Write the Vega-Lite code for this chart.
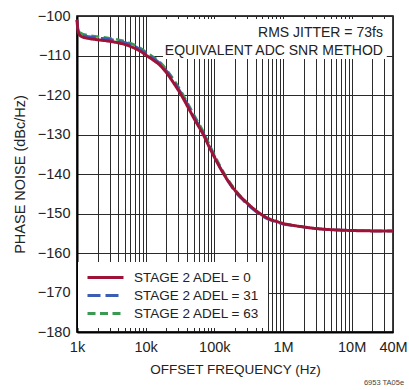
{
  "$schema": "https://vega.github.io/schema/vega-lite/v6.json",
  "width": 316,
  "height": 316,
  "autosize": {"type": "none"},
  "padding": {"left": 77, "top": 16, "right": 16, "bottom": 58},
  "background": "white",
  "config": {
    "font": "Liberation Sans",
    "view": {"stroke": "#000", "strokeWidth": 1.5}
  },
  "title": {"text": "6953 TA05e", "orient": "bottom", "anchor": "end", "fontSize": 7.5, "fontWeight": "normal", "color": "#444", "font": "Liberation Sans", "offset": 3, "dx": -3},
  "datasets": {
    "curves": [
      {"series": "STAGE 2 ADEL = 0", "freq": 1000, "db": -101.0},
      {"series": "STAGE 2 ADEL = 0", "freq": 1030, "db": -103.5},
      {"series": "STAGE 2 ADEL = 0", "freq": 1080, "db": -104.7},
      {"series": "STAGE 2 ADEL = 0", "freq": 1200, "db": -105.3},
      {"series": "STAGE 2 ADEL = 0", "freq": 1500, "db": -105.7},
      {"series": "STAGE 2 ADEL = 0", "freq": 2000, "db": -106.0},
      {"series": "STAGE 2 ADEL = 0", "freq": 3000, "db": -106.4},
      {"series": "STAGE 2 ADEL = 0", "freq": 4000, "db": -106.8},
      {"series": "STAGE 2 ADEL = 0", "freq": 5000, "db": -107.2},
      {"series": "STAGE 2 ADEL = 0", "freq": 6000, "db": -107.7},
      {"series": "STAGE 2 ADEL = 0", "freq": 7000, "db": -108.2},
      {"series": "STAGE 2 ADEL = 0", "freq": 8500, "db": -109.0},
      {"series": "STAGE 2 ADEL = 0", "freq": 10300, "db": -110.0},
      {"series": "STAGE 2 ADEL = 0", "freq": 13000, "db": -111.2},
      {"series": "STAGE 2 ADEL = 0", "freq": 16000, "db": -112.4},
      {"series": "STAGE 2 ADEL = 0", "freq": 20000, "db": -114.3},
      {"series": "STAGE 2 ADEL = 0", "freq": 25000, "db": -116.7},
      {"series": "STAGE 2 ADEL = 0", "freq": 33000, "db": -120.0},
      {"series": "STAGE 2 ADEL = 0", "freq": 42000, "db": -123.3},
      {"series": "STAGE 2 ADEL = 0", "freq": 52000, "db": -126.3},
      {"series": "STAGE 2 ADEL = 0", "freq": 69000, "db": -130.0},
      {"series": "STAGE 2 ADEL = 0", "freq": 85000, "db": -133.3},
      {"series": "STAGE 2 ADEL = 0", "freq": 100000, "db": -135.7},
      {"series": "STAGE 2 ADEL = 0", "freq": 120000, "db": -138.3},
      {"series": "STAGE 2 ADEL = 0", "freq": 137000, "db": -140.0},
      {"series": "STAGE 2 ADEL = 0", "freq": 170000, "db": -142.5},
      {"series": "STAGE 2 ADEL = 0", "freq": 210000, "db": -144.6},
      {"series": "STAGE 2 ADEL = 0", "freq": 263000, "db": -146.4},
      {"series": "STAGE 2 ADEL = 0", "freq": 350000, "db": -148.4},
      {"series": "STAGE 2 ADEL = 0", "freq": 461000, "db": -150.0},
      {"series": "STAGE 2 ADEL = 0", "freq": 600000, "db": -151.2},
      {"series": "STAGE 2 ADEL = 0", "freq": 800000, "db": -152.0},
      {"series": "STAGE 2 ADEL = 0", "freq": 1000000, "db": -152.5},
      {"series": "STAGE 2 ADEL = 0", "freq": 1300000, "db": -152.9},
      {"series": "STAGE 2 ADEL = 0", "freq": 2000000, "db": -153.4},
      {"series": "STAGE 2 ADEL = 0", "freq": 3000000, "db": -153.8},
      {"series": "STAGE 2 ADEL = 0", "freq": 5000000, "db": -154.1},
      {"series": "STAGE 2 ADEL = 0", "freq": 10000000, "db": -154.3},
      {"series": "STAGE 2 ADEL = 0", "freq": 20000000, "db": -154.4},
      {"series": "STAGE 2 ADEL = 0", "freq": 40000000, "db": -154.4},

      {"series": "STAGE 2 ADEL = 31", "freq": 1000, "db": -101.0},
      {"series": "STAGE 2 ADEL = 31", "freq": 1030, "db": -103.2},
      {"series": "STAGE 2 ADEL = 31", "freq": 1080, "db": -104.3},
      {"series": "STAGE 2 ADEL = 31", "freq": 1200, "db": -104.9},
      {"series": "STAGE 2 ADEL = 31", "freq": 1500, "db": -105.2},
      {"series": "STAGE 2 ADEL = 31", "freq": 2000, "db": -105.5},
      {"series": "STAGE 2 ADEL = 31", "freq": 3000, "db": -105.9},
      {"series": "STAGE 2 ADEL = 31", "freq": 4000, "db": -106.3},
      {"series": "STAGE 2 ADEL = 31", "freq": 5000, "db": -106.7},
      {"series": "STAGE 2 ADEL = 31", "freq": 6000, "db": -107.2},
      {"series": "STAGE 2 ADEL = 31", "freq": 7000, "db": -107.7},
      {"series": "STAGE 2 ADEL = 31", "freq": 8500, "db": -108.5},
      {"series": "STAGE 2 ADEL = 31", "freq": 10300, "db": -109.5},
      {"series": "STAGE 2 ADEL = 31", "freq": 13000, "db": -110.7},
      {"series": "STAGE 2 ADEL = 31", "freq": 16000, "db": -111.9},
      {"series": "STAGE 2 ADEL = 31", "freq": 20000, "db": -113.8},
      {"series": "STAGE 2 ADEL = 31", "freq": 25000, "db": -116.2},
      {"series": "STAGE 2 ADEL = 31", "freq": 33000, "db": -119.5},
      {"series": "STAGE 2 ADEL = 31", "freq": 42000, "db": -122.8},
      {"series": "STAGE 2 ADEL = 31", "freq": 52000, "db": -125.8},
      {"series": "STAGE 2 ADEL = 31", "freq": 69000, "db": -129.6},
      {"series": "STAGE 2 ADEL = 31", "freq": 85000, "db": -132.9},
      {"series": "STAGE 2 ADEL = 31", "freq": 100000, "db": -135.4},
      {"series": "STAGE 2 ADEL = 31", "freq": 120000, "db": -138.1},
      {"series": "STAGE 2 ADEL = 31", "freq": 137000, "db": -140.0},
      {"series": "STAGE 2 ADEL = 31", "freq": 170000, "db": -142.7},
      {"series": "STAGE 2 ADEL = 31", "freq": 210000, "db": -144.9},
      {"series": "STAGE 2 ADEL = 31", "freq": 263000, "db": -146.7},
      {"series": "STAGE 2 ADEL = 31", "freq": 350000, "db": -148.7},
      {"series": "STAGE 2 ADEL = 31", "freq": 461000, "db": -150.3},
      {"series": "STAGE 2 ADEL = 31", "freq": 600000, "db": -151.4},
      {"series": "STAGE 2 ADEL = 31", "freq": 800000, "db": -152.2},
      {"series": "STAGE 2 ADEL = 31", "freq": 1000000, "db": -152.7},
      {"series": "STAGE 2 ADEL = 31", "freq": 1300000, "db": -153.0},
      {"series": "STAGE 2 ADEL = 31", "freq": 2000000, "db": -153.45},
      {"series": "STAGE 2 ADEL = 31", "freq": 3000000, "db": -153.8},
      {"series": "STAGE 2 ADEL = 31", "freq": 5000000, "db": -154.1},
      {"series": "STAGE 2 ADEL = 31", "freq": 10000000, "db": -154.3},
      {"series": "STAGE 2 ADEL = 31", "freq": 20000000, "db": -154.4},
      {"series": "STAGE 2 ADEL = 31", "freq": 40000000, "db": -154.4},

      {"series": "STAGE 2 ADEL = 63", "freq": 1000, "db": -101.0},
      {"series": "STAGE 2 ADEL = 63", "freq": 1030, "db": -103.0},
      {"series": "STAGE 2 ADEL = 63", "freq": 1080, "db": -104.0},
      {"series": "STAGE 2 ADEL = 63", "freq": 1200, "db": -104.5},
      {"series": "STAGE 2 ADEL = 63", "freq": 1500, "db": -104.9},
      {"series": "STAGE 2 ADEL = 63", "freq": 2000, "db": -105.2},
      {"series": "STAGE 2 ADEL = 63", "freq": 3000, "db": -105.6},
      {"series": "STAGE 2 ADEL = 63", "freq": 4000, "db": -106.0},
      {"series": "STAGE 2 ADEL = 63", "freq": 5000, "db": -106.4},
      {"series": "STAGE 2 ADEL = 63", "freq": 6000, "db": -106.9},
      {"series": "STAGE 2 ADEL = 63", "freq": 7000, "db": -107.4},
      {"series": "STAGE 2 ADEL = 63", "freq": 8500, "db": -108.2},
      {"series": "STAGE 2 ADEL = 63", "freq": 10300, "db": -109.2},
      {"series": "STAGE 2 ADEL = 63", "freq": 13000, "db": -110.4},
      {"series": "STAGE 2 ADEL = 63", "freq": 16000, "db": -111.6},
      {"series": "STAGE 2 ADEL = 63", "freq": 20000, "db": -113.5},
      {"series": "STAGE 2 ADEL = 63", "freq": 25000, "db": -115.8},
      {"series": "STAGE 2 ADEL = 63", "freq": 33000, "db": -119.1},
      {"series": "STAGE 2 ADEL = 63", "freq": 42000, "db": -122.4},
      {"series": "STAGE 2 ADEL = 63", "freq": 52000, "db": -125.4},
      {"series": "STAGE 2 ADEL = 63", "freq": 69000, "db": -129.2},
      {"series": "STAGE 2 ADEL = 63", "freq": 85000, "db": -132.6},
      {"series": "STAGE 2 ADEL = 63", "freq": 100000, "db": -135.1},
      {"series": "STAGE 2 ADEL = 63", "freq": 120000, "db": -137.8},
      {"series": "STAGE 2 ADEL = 63", "freq": 137000, "db": -139.6},
      {"series": "STAGE 2 ADEL = 63", "freq": 170000, "db": -142.2},
      {"series": "STAGE 2 ADEL = 63", "freq": 210000, "db": -144.4},
      {"series": "STAGE 2 ADEL = 63", "freq": 263000, "db": -146.3},
      {"series": "STAGE 2 ADEL = 63", "freq": 350000, "db": -148.4},
      {"series": "STAGE 2 ADEL = 63", "freq": 461000, "db": -150.0},
      {"series": "STAGE 2 ADEL = 63", "freq": 600000, "db": -151.2},
      {"series": "STAGE 2 ADEL = 63", "freq": 800000, "db": -152.0},
      {"series": "STAGE 2 ADEL = 63", "freq": 1000000, "db": -152.5},
      {"series": "STAGE 2 ADEL = 63", "freq": 1300000, "db": -152.9},
      {"series": "STAGE 2 ADEL = 63", "freq": 2000000, "db": -153.4},
      {"series": "STAGE 2 ADEL = 63", "freq": 3000000, "db": -153.8},
      {"series": "STAGE 2 ADEL = 63", "freq": 5000000, "db": -154.1},
      {"series": "STAGE 2 ADEL = 63", "freq": 10000000, "db": -154.3},
      {"series": "STAGE 2 ADEL = 63", "freq": 20000000, "db": -154.4},
      {"series": "STAGE 2 ADEL = 63", "freq": 40000000, "db": -154.4}
    ],
    "box": [
      {"freq": 17900, "freq2": 32500000, "db": -100.76, "db2": -110.9}
    ],
    "notes": [
      {"freq": 28500000, "db": -105.2, "label": "RMS JITTER = 73fs"},
      {"freq": 28500000, "db": -109.9, "label": "EQUIVALENT ADC SNR METHOD"}
    ]
  },
  "encoding": {
    "x": {
      "field": "freq",
      "type": "quantitative",
      "scale": {"type": "log", "domain": [1000, 40000000], "nice": false},
      "axis": {
        "values": [1000, 2000, 3000, 4000, 5000, 6000, 7000, 8000, 9000, 10000, 20000, 30000, 40000, 50000, 60000, 70000, 80000, 90000, 100000, 200000, 300000, 400000, 500000, 600000, 700000, 800000, 900000, 1000000, 2000000, 3000000, 4000000, 5000000, 6000000, 7000000, 8000000, 9000000, 10000000, 20000000, 30000000, 40000000],
        "labelExpr": "datum.value == 1000 ? '1k' : datum.value == 10000 ? '10k' : datum.value == 100000 ? '100k' : datum.value == 1000000 ? '1M' : datum.value == 10000000 ? '10M' : datum.value == 40000000 ? '40M' : ''",
        "labelOverlap": false,
        "labelFlush": false,
        "labelBound": false,
        "grid": true,
        "gridColor": "#2a2a2a",
        "gridWidth": 1,
        "gridOpacity": 1,
        "ticks": false,
        "tickSize": 0,
        "domain": true,
        "domainColor": "#000",
        "domainWidth": 2,
        "labelPadding": 8,
        "labelFontSize": 14.5,
        "labelColor": "#222",
        "title": "OFFSET FREQUENCY (Hz)",
        "titleFontSize": 13.5,
        "titleFontWeight": "normal",
        "titleColor": "#222",
        "titlePadding": 9
      }
    },
    "y": {
      "field": "db",
      "type": "quantitative",
      "scale": {"domain": [-180, -100], "nice": false, "zero": false},
      "axis": {
        "values": [-180, -170, -160, -150, -140, -130, -120, -110, -100],
        "grid": true,
        "gridColor": "#2a2a2a",
        "gridWidth": 1,
        "gridOpacity": 1,
        "ticks": false,
        "tickSize": 0,
        "domain": true,
        "domainColor": "#000",
        "domainWidth": 2,
        "labelPadding": 7,
        "labelFontSize": 14.5,
        "labelColor": "#222",
        "title": "PHASE NOISE (dBc/Hz)",
        "titleFontSize": 14.5,
        "titleFontWeight": "normal",
        "titleColor": "#222",
        "titlePadding": 10
      }
    }
  },
  "layer": [
    {
      "data": {"name": "box"},
      "mark": {"type": "rect", "fill": "white"},
      "encoding": {
        "x2": {"field": "freq2"},
        "y2": {"field": "db2"}
      }
    },
    {
      "data": {"name": "curves"},
      "transform": [{"filter": "datum.series == 'STAGE 2 ADEL = 63'"}],
      "mark": {"type": "line", "strokeWidth": 2.5, "interpolate": "monotone"},
      "encoding": {
        "color": {"field": "series", "type": "nominal", "scale": {"domain": ["STAGE 2 ADEL = 0", "STAGE 2 ADEL = 31", "STAGE 2 ADEL = 63"], "range": ["#9e1238", "#3d5db3", "#3a9a52"]}, "legend": {"title": null, "orient": "none", "legendX": 1, "legendY": 246, "fillColor": "white", "padding": 8, "symbolType": "M-1,0L5,0", "symbolSize": 144, "symbolStrokeWidth": 3, "labelFontSize": 13.5, "labelColor": "#222", "labelOffset": 33, "rowPadding": 4}},
        "strokeDash": {"field": "series", "type": "nominal", "scale": {"domain": ["STAGE 2 ADEL = 0", "STAGE 2 ADEL = 31", "STAGE 2 ADEL = 63"], "range": [[1, 0], [13, 5], [8, 4.5]]}, "legend": {"title": null, "orient": "none", "legendX": 1, "legendY": 246, "fillColor": "white", "padding": 8, "symbolType": "M-1,0L5,0", "symbolSize": 144, "symbolStrokeWidth": 3, "labelFontSize": 13.5, "labelColor": "#222", "labelOffset": 33, "rowPadding": 4}}
      }
    },
    {
      "data": {"name": "curves"},
      "transform": [{"filter": "datum.series == 'STAGE 2 ADEL = 31'"}],
      "mark": {"type": "line", "strokeWidth": 2.5, "interpolate": "monotone"},
      "encoding": {
        "color": {"field": "series", "type": "nominal"},
        "strokeDash": {"field": "series", "type": "nominal"}
      }
    },
    {
      "data": {"name": "curves"},
      "transform": [{"filter": "datum.series == 'STAGE 2 ADEL = 0'"}],
      "mark": {"type": "line", "strokeWidth": 3, "interpolate": "monotone"},
      "encoding": {
        "color": {"field": "series", "type": "nominal"},
        "strokeDash": {"field": "series", "type": "nominal"}
      }
    },
    {
      "data": {"name": "notes"},
      "mark": {"type": "text", "align": "right", "baseline": "alphabetic", "fontSize": 14, "color": "#222"},
      "encoding": {
        "text": {"field": "label", "type": "nominal"}
      }
    }
  ]
}
